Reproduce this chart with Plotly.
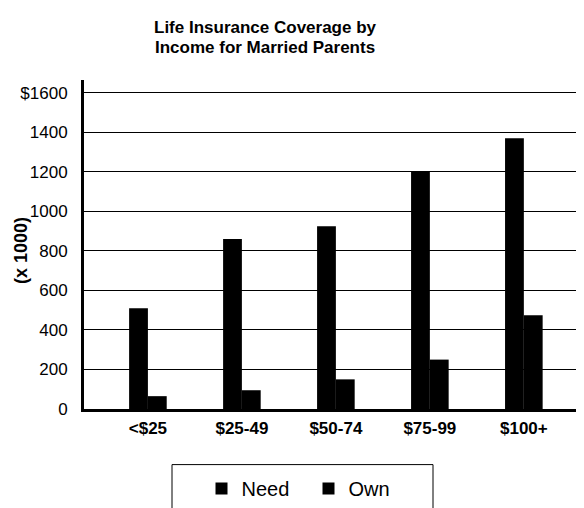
import plotly.graph_objects as go

categories = ["<$25", "$25-49", "$50-74", "$75-99", "$100+"]
need = [510, 860, 925, 1200, 1370]
own = [65, 95, 150, 250, 475]
tick_vals = [0, 200, 400, 600, 800, 1000, 1200, 1400, 1600]
tick_text = ["0", "200", "400", "600", "800", "1000", "1200", "1400", "$1600"]

FONT = "Liberation Sans, Arial, sans-serif"

fig = go.Figure()
fig.add_trace(go.Bar(x=categories, y=need, name="Need", marker=dict(color="black", line=dict(width=0))))
fig.add_trace(go.Bar(x=categories, y=own, name="Own", marker=dict(color="black", line=dict(width=0))))

fig.update_layout(
    width=576, height=500,
    margin=dict(l=76, r=0, t=72, b=97),
    paper_bgcolor="white", plot_bgcolor="white",
    barmode="group", bargap=0.6, bargroupgap=0,
    font=dict(family=FONT, color="black", size=17),
    showlegend=True,
    legend=dict(orientation="h", x=0.235, xanchor="left", y=-0.242, yanchor="middle",
                font=dict(size=20, family=FONT), bgcolor="rgba(0,0,0,0)", borderwidth=0,
                itemwidth=30, entrywidth=62, entrywidthmode="pixels", traceorder="normal"),
    xaxis=dict(range=[-0.68, 4.64], showgrid=False, showline=True, linecolor="black", linewidth=3,
               ticks="", tickfont=dict(size=17, family=FONT, weight="bold"), ticklabelstandoff=2,
               zeroline=False),
    yaxis=dict(range=[0, 1665], tickvals=tick_vals, ticktext=tick_text, showgrid=True,
               gridcolor="black", gridwidth=1, showline=True, linecolor="black", linewidth=3,
               ticks="", tickfont=dict(size=17, family=FONT), ticklabelstandoff=10, zeroline=False),
    annotations=[
        dict(text="<b>Life Insurance Coverage by</b>", xref="paper", yref="paper", x=0.362, y=1.160,
             showarrow=False, font=dict(size=17, family=FONT), xanchor="center", yanchor="middle"),
        dict(text="<b>Income for Married Parents</b>", xref="paper", yref="paper", x=0.362, y=1.100,
             showarrow=False, font=dict(size=17, family=FONT), xanchor="center", yanchor="middle"),
        dict(text="<b>(x 1000)</b>", xref="paper", yref="paper", x=-0.126, y=0.48, textangle=-90,
             showarrow=False, font=dict(size=18, family=FONT), xanchor="center", yanchor="middle"),
    ],
    shapes=[
        dict(type="rect", xref="paper", yref="paper", x0=0.176, x1=0.698, y0=-0.40, y1=-0.169,
             line=dict(color="black", width=1), fillcolor="rgba(0,0,0,0)"),
    ],
)

fig.write_html("out.html")
